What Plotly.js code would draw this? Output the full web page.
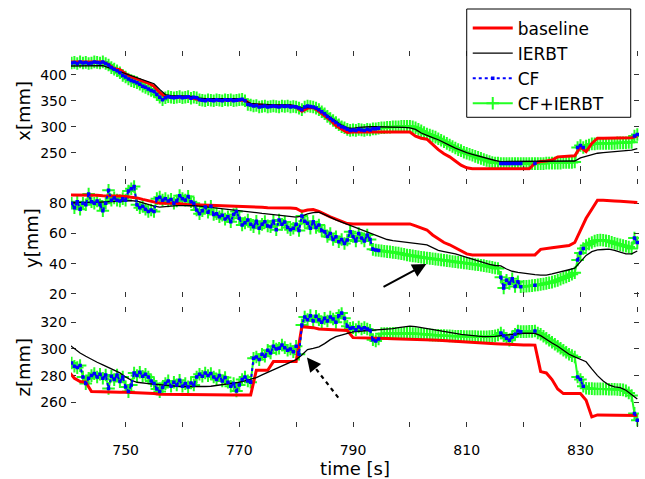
<!DOCTYPE html>
<html><head><meta charset="utf-8">
<script src="https://cdn.plot.ly/plotly-3.0.1.min.js"></script>
<style>html,body{margin:0;padding:0;background:#fff}#chart{width:645px;height:479px}</style>
</head><body><div id="chart"></div>
<script>
const _ = null;
// sampling of the time axis [s]
const T0 = 740;
const DT_LINE = 1;    // baseline, IERBT
const DT_CF = 0.5;    // CF, CF+IERBT

const xTickVals = [740,750,760,770,780,790,800,810,820,830,840];
const xTickText = ['','750','','770','','790','','810','','830',''];
const xmmTicks = [250,300,350,400];
const ymmTicks = [20,40,60,80];
const zmmTicks = [260,280,300,320];
const seriesNames = ['baseline', 'IERBT', 'CF', 'CF+IERBT'];

// ---------- x [mm] ----------
const xBaseline = [
 425,425,424,424,425,425,425,420,412,410,
 402,396,392,388,384,378,366,358,358,357,
 357,357,355,352,352,352,352,352,352,352,
 352,351,343,342,341,340,340,340,340,340,
 338,330,336,337,330,322,313,302,295,289,
 290,290,290,290,290,290,290,290,290,290,
 290,282,278,276,266,256,248,242,234,226,
 221,219,219,219,219,219,219,219,219,219,
 219,219,230,233,234,236,242,243,243,244,
 261,252,268,278,278,278,278,278,278,279,
 282];
const xIERBT = [
 417,417,417,418,418,418,418,414,410,407,
 402,398,395,391,387,383,372,362,360,360,
 359,359,358,355,354,354,354,354,354,354,
 354,350,345,344,343,342,342,342,342,342,
 340,336,337,337,332,326,318,310,303,298,
 297,299,300,300,300,300,300,300,300,299,
 298,295,288,283,279,275,269,264,259,254,
 250,247,244,240,237,235,233,233,233,233,
 233,233,233,233,233,233,233,233,233,234,
 240,243,246,249,250,251,252,253,254,255,
 258];
const xCFIERBT = [
 424,423,424,422,425,423,424,422,423,425,
 424,423,425,422,419,414,411,408,404,399,
 396,392,389,387,385,382,378,376,373,370,
 368,362,357,352,356,358,357,356,357,358,
 356,357,358,355,357,356,352,351,350,352,
 351,350,352,351,350,352,351,352,350,351,
 352,353,350,343,342,340,341,338,339,340,
 338,339,340,339,338,340,339,340,338,339,
 338,336,333,338,340,339,338,336,333,329,
 325,320,316,312,308,304,300,298,295,293,
 294,293,295,294,293,295,294,296,296,297,
 298,298,299,299,300,300,300,301,301,301,
 301,300,298,295,292,289,286,284,282,280,
 277,274,271,268,265,262,259,256,254,251,
 249,247,245,243,241,239,237,235,233,231,
 230,230,229,229,229,229,229,229,229,229,
 229,229,229,229,229,229,229,229,230,230,
 230,230,230,230,231,231,231,231,232,260,
 264,260,263,265,267,267,268,268,268,268,
 268,268,268,269,269,269,269,270,270,282,
 285];
const xCF = [
 424,423,424,422,425,423,424,422,423,425,
 424,423,425,422,419,414,411,408,404,399,
 396,392,389,387,385,382,378,376,373,370,
 368,362,357,352,356,358,357,356,357,358,
 356,357,358,355,357,356,352,351,350,352,
 351,350,352,351,350,352,351,352,350,351,
 352,353,350,343,342,340,341,338,339,340,
 338,339,340,339,338,340,339,340,338,339,
 338,336,333,338,340,339,338,336,333,329,
 325,320,316,312,308,304,300,298,295,293,
 294,293,295,294,293,295,294,296,296,297,
 _,_,_,_,_,_,_,_,_,_,
 _,_,_,_,_,_,_,_,_,_,
 _,_,_,_,_,_,_,_,_,_,
 _,_,_,_,_,_,_,_,_,_,
 _,_,229,229,229,229,229,229,229,229,
 _,_,_,_,229,_,_,_,_,_,
 _,_,_,_,_,_,_,_,_,260,
 264,260,_,_,_,_,_,_,_,_,
 _,_,_,_,_,_,_,_,_,282,
 285];

// ---------- y [mm] ----------
const yBaseline = [
 85.5,85.5,85.3,85.2,85.2,85.2,85,85,85,84.8,
 84.5,84,83.5,82.5,81.5,80.5,80,80,80,80,
 79.5,79,79,79,78.8,78.5,78.5,78.3,78.2,78,
 78,78,77.8,77.5,77.3,77,77,76.8,76.8,76.8,
 76.5,74.5,75.5,75.8,74.5,72.5,71,69.5,68,66.5,
 66.3,66.3,66.3,66.3,66.3,66.3,66.3,66.3,66.3,66.3,
 66.3,65,63.5,62.3,59,56.5,54,52.5,50.5,48.5,
 46.5,45.8,45.8,45.8,45.8,45.8,45.8,45.8,45.8,45.8,
 45.8,45.8,45.8,49.5,49.8,50.5,51,51.5,52,54,
 62,70,76,82,82,81.5,81.5,81.3,81,80.8,
 80.5];
const yIERBT = [
 80.5,80.5,80.5,80.3,80.2,80.5,80.8,81,81.2,81.4,
 81.6,81.7,81.3,80.2,79,78,77.4,77.8,78.2,78.4,
 78.4,78.5,78.3,78,77.6,77,76.5,76,75.6,75.3,
 75.2,74.8,74.5,73.8,73.2,72.8,72.5,72,71.5,71,
 70.8,71.5,73,73.8,74,72.5,70.5,69,67.5,66,
 64.5,63,61.5,60.1,58.5,57.3,56,55.3,54.9,54.6,
 54,53.5,53,52.4,50.5,48.8,48,47.3,46.5,45.3,
 44.1,42.8,41.8,40.8,39.5,38.8,38.5,36.5,35,34.2,
 33.6,33.2,32.8,32.5,32.5,33.2,34.3,35.3,36,37,
 41,45.5,48,49.1,49.4,49.6,48.8,47.8,46.5,46.5,
 48.4];
const yCFIERBT = [
 78,80,77,81,76,80,79,86,81,80,
 81.5,79,75,80,88.5,82,83.5,82,81.5,83,
 82,88,89.5,91,79,77,78,76,74.5,75.5,
 74.5,83,84,82,83,81.5,82.5,80,81.5,85,
 83,82,84.5,81,80,75.5,73,75,77.5,74,
 78,72.5,73,71,72,69.5,71,67.8,72.5,74.5,
 70,65.6,67,68.9,66,64.5,68,63.4,66,67.8,
 65,64.5,68,62.5,68.9,66,67.5,64,62.5,63.4,
 66,62,71.6,68,66.7,63.5,67.8,64,65.6,62,
 61.2,58,60,56,57.8,54.5,56,53.4,55.7,61.2,
 58,55,60,57,55,59,56,49.5,49,48.7,
 48.5,48.2,48,47.8,47.5,47.2,47,46.6,46.2,45.8,
 45.5,45.2,44.9,44.6,44.3,44,43.8,43.5,43.3,43,
 42.8,42.5,42.3,42,41.8,41.5,41.3,41,40.8,40.5,
 40.3,40,39.8,39.5,39.3,39,38.7,38.3,38,37.6,
 37.2,36.8,31,24,29,27,30,25,28,24.8,
 25,25.1,25.3,25.5,25.8,26,26.3,26.6,27,27.4,
 27.8,28.4,29,29.7,30.5,31.2,32,33,34,42.5,
 47,50,52,53,54,55,55.5,55.7,55.5,55.2,
 54.8,54.2,53.5,53,52.5,52,51.5,51,50,57,
 54];
const yCF = [
 78,80,77,81,76,80,79,86,81,80,
 81.5,79,75,80,88.5,82,83.5,82,81.5,83,
 82,88,89.5,91,79,77,78,76,74.5,75.5,
 74.5,83,84,82,83,81.5,82.5,80,81.5,85,
 83,82,84.5,81,80,75.5,73,75,77.5,74,
 78,72.5,73,71,72,69.5,71,67.8,72.5,74.5,
 70,65.6,67,68.9,66,64.5,68,63.4,66,67.8,
 65,64.5,68,62.5,68.9,66,67.5,64,62.5,63.4,
 66,62,71.6,68,66.7,63.5,67.8,64,65.6,62,
 61.2,58,60,56,57.8,54.5,56,53.4,55.7,61.2,
 58,55,60,57,55,59,56,49.5,49,48.7,
 _,_,_,_,_,_,_,_,_,_,
 _,_,_,_,_,_,_,_,_,_,
 _,_,_,_,_,_,_,_,_,_,
 _,_,_,_,_,_,_,_,_,_,
 _,_,31,24,29,27,30,25,28,24.8,
 _,_,_,_,25.8,_,_,_,_,_,
 _,_,_,_,_,_,_,_,_,42.5,
 47,50,_,_,_,_,_,_,_,_,
 _,_,_,_,_,_,_,_,_,57,
 54];

// ---------- z [mm] ----------
const zBaseline = [
 283,278,275.5,275,268,268,268,267.8,267.6,267.5,
 267.4,267.3,267.2,267,266.8,266.5,266,266,266,266,
 266,266,266,265.8,265.7,265.6,265.5,265.5,265.5,265.5,
 265.4,265.3,265.5,284,284,284,290.5,290.5,290.5,290.5,
 290.5,316.7,316.5,316,315,314.8,314.5,314.3,314,313.8,
 308.5,308.3,308.2,308.1,308,308,307.8,307.7,307.6,307.5,
 307.5,307.5,307.3,307,306.8,306.5,306.2,306,305.7,305.5,
 305.2,305,304.8,304.5,304.3,304,303.8,303.5,303.3,303.2,
 303,303,302.9,283,282,277,270,266.5,266.5,266.5,
 266.5,261.5,249,250.5,250.5,250.3,250.3,250.2,250.2,250.2,
 250];
const zIERBT = [
 303.5,300,297,294.5,292,290,288,286,284.5,282,
 279,276.5,275,274.3,274,273.5,273,272.5,272,272,
 271.8,271.7,271.6,271.6,271.8,272,272.5,273,273.5,274,
 275,276,277,278.5,280.5,282.5,284.5,286.5,288.5,290.3,
 292,295.5,299.5,300.5,301.6,304,307,309.2,310.5,312,
 312.9,313.3,313.6,314,314.3,314.5,314.7,315.3,316,316.7,
 317.2,316.8,316,315.2,314.5,314,313.3,312.5,311.7,311,
 310.4,310,309.6,309.3,309.2,309.5,310,310.5,311,311.7,
 311.8,311.8,311.7,310,307,304.5,302,299,296,294,
 292,290.4,285,280,276,273,271.5,271,269,265.5,
 262.5];
const zCFIERBT = [
 290,289.5,287,286,287.5,279,274,278,280,281.5,
 279,281,278,280.5,270.3,279.5,277,280.5,275.5,279,
 271.5,268,273,282,280,282.5,279.5,281,279,276,
 274,270,268,271,274,276,272,275,273,276.5,
 272,274,271.5,274.5,273,279,281,279.5,282,280,
 281.5,279,277,280,276,278.5,275,272,274,268.5,
 273,277,279,276,275,293,294,292,296,294.5,
 299,297,302,300,300.5,303,301,299,300,298,
 302,296,318,324,322,325,321,324.5,322,320,
 323,321,324,322.5,320,325,327,323,317,315.5,
 316,314.5,316.5,315,316,315,314,307,306,307.5,
 311.5,311.5,311.6,311.6,311.7,311.7,311.7,311.7,311.7,311.7,
 311.7,311.6,311.5,311.4,311.2,311,310.8,310.6,310.4,310.3,
 310.2,310.1,310,309.9,309.8,309.7,309.6,309.5,309.5,309.4,
 309.4,309.3,309.3,309.3,309.2,309.2,309.2,309.2,309.3,309.5,
 309.8,310.5,312,310,308,306.5,309,311,313.5,313,
 313,313,313.2,313.2,313.5,312,311,309.5,308,306.5,
 305,303.5,302,300.5,299,297.5,296,295,294,279,
 277,272,270.5,270.3,270.2,270,270,270,270,269.9,
 269.8,269.7,269.7,269.6,269.5,269.3,268.5,267,265,251.6,
 246.5];
const zCF = [
 290,289.5,287,286,287.5,279,274,278,280,281.5,
 279,281,278,280.5,270.3,279.5,277,280.5,275.5,279,
 271.5,268,273,282,280,282.5,279.5,281,279,276,
 274,270,268,271,274,276,272,275,273,276.5,
 272,274,271.5,274.5,273,279,281,279.5,282,280,
 281.5,279,277,280,276,278.5,275,272,274,268.5,
 273,277,279,276,275,293,294,292,296,294.5,
 299,297,302,300,300.5,303,301,299,300,298,
 302,296,318,324,322,325,321,324.5,322,320,
 323,321,324,322.5,320,325,327,323,317,315.5,
 316,314.5,316.5,315,316,315,314,307,306,307.5,
 _,_,_,_,_,_,_,_,_,_,
 _,_,_,_,_,_,_,_,_,_,
 _,_,_,_,_,_,_,_,_,_,
 _,_,_,_,_,_,_,_,_,_,
 _,_,312,310,308,306.5,309,311,313.5,313,
 _,_,_,_,313.5,_,_,_,_,_,
 _,_,_,_,_,_,_,_,_,279,
 277,272,_,_,_,_,_,_,_,_,
 _,_,_,_,_,_,_,_,_,251.6,
 246.5];

const RED = '#ff0000', GREEN = '#22ff22', BLUE = '#0000ff';

function panel(n, base, ierbt, cf, fused) {
  const xa = n === 1 ? 'x' : 'x' + n, ya = n === 1 ? 'y' : 'y' + n, sl = n === 1;
  const common = {type: 'scatter', xaxis: xa, yaxis: ya, showlegend: sl, hoverinfo: 'skip', x0: T0};
  return [
    Object.assign({}, common, {name: seriesNames[0], legendgroup: 'baseline', mode: 'lines', dx: DT_LINE, y: base,
      line: {color: RED, width: 3}, zorder: 1}),
    Object.assign({}, common, {name: seriesNames[1], legendgroup: 'ierbt', mode: 'lines', dx: DT_LINE, y: ierbt,
      line: {color: '#000000', width: 1.3}, zorder: 2}),
    Object.assign({}, common, {name: seriesNames[2], legendgroup: 'cf', mode: 'lines+markers', dx: DT_CF, y: cf,
      line: {color: BLUE, width: 2, dash: 'dot'}, marker: {symbol: 'square', size: 3.5, color: BLUE}, zorder: 3}),
    Object.assign({}, common, {name: seriesNames[3], legendgroup: 'fused', mode: 'lines+markers', dx: DT_CF, y: fused,
      line: {color: GREEN, width: 2}, marker: {symbol: 'cross-thin', size: 9, color: GREEN, line: {color: GREEN, width: 2}}, zorder: 0})
  ];
}

const data = [].concat(
  panel(1, xBaseline, xIERBT, xCF, xCFIERBT),
  panel(2, yBaseline, yIERBT, yCF, yCFIERBT),
  panel(3, zBaseline, zIERBT, zCF, zCFIERBT)
);

const axBase = {showline: true, linecolor: '#222', linewidth: 1.3, mirror: 'ticks', ticks: 'inside',
  ticklen: 5, tickwidth: 1, tickcolor: '#333', showgrid: false, zeroline: false,
  tickfont: {size: 14, color: '#000'}};
const XR = [740.4, 840.3];
function xax(anchor, labels) {
  return Object.assign({}, axBase, {anchor: anchor, domain: [0, 1], range: XR, tickmode: 'array',
    tickvals: xTickVals, ticktext: xTickText, showticklabels: labels, ticklabelstandoff: 10});
}
function yax(anchor, dom, rng, tv, title) {
  return Object.assign({}, axBase, {anchor: anchor, domain: dom, range: rng, tickmode: 'array', tickvals: tv,
    title: {text: title, font: {size: 18, color: '#000'}, standoff: 5}});
}

const layout = {
  width: 645, height: 479,
  margin: {l: 71, r: 6, t: 51, b: 52},
  paper_bgcolor: '#fff', plot_bgcolor: '#fff',
  font: {family: 'DejaVu Sans', color: '#000'},
  hovermode: false,
  xaxis: xax('y', false),
  xaxis2: xax('y2', false),
  xaxis3: Object.assign(xax('y3', true), {title: {text: 'time [s]', font: {size: 18, color: '#000'}, standoff: 0}}),
  yaxis: yax('x', [0.6816, 1], [215.3, 446], xmmTicks, 'x[mm]'),
  yaxis2: yax('x2', [0.345, 0.6596], [17.8, 96], ymmTicks, 'y[mm]'),
  yaxis3: yax('x3', [0, 0.3184], [241.4, 331.3], zmmTicks, 'z[mm]'),
  legend: {x: 0.6985, y: 1.108, xanchor: 'left', yanchor: 'top', bgcolor: 'rgba(0,0,0,0)',
    borderwidth: 0, font: {size: 17, color: '#000'}, itemwidth: 40, traceorder: 'grouped', tracegroupgap: 0},
  shapes: [
    // legend frame
    {type: 'rect', xref: 'paper', yref: 'paper', x0: 0.6967, x1: 0.9854, y0: 0.8237, y1: 1.1117,
      fillcolor: '#fff', line: {color: '#000', width: 1}, layer: 'above'},
    {type: 'line', xref: 'x3', yref: 'y3', x0: 787.4, y0: 263.5, x1: 783.2, y1: 286.6,
      line: {color: '#000', width: 2.2, dash: '4px,4px'}}
  ],
  annotations: [
    {xref: 'x2', yref: 'y2', axref: 'x2', ayref: 'y2', x: 802.9, y: 39.8, ax: 795.1, ay: 24.1, text: '',
      showarrow: true, arrowhead: 2, arrowsize: 1.4, arrowwidth: 2, arrowcolor: '#000'},
    {xref: 'x3', yref: 'y3', axref: 'x3', ayref: 'y3', x: 781.9, y: 293.6, ax: 783.2, ay: 286.6, text: '',
      showarrow: true, arrowhead: 2, arrowsize: 1.4, arrowwidth: 2, arrowcolor: '#000'}
  ]
};

Plotly.newPlot('chart', data, layout, {staticPlot: true, displayModeBar: false});
</script>
</body></html>
